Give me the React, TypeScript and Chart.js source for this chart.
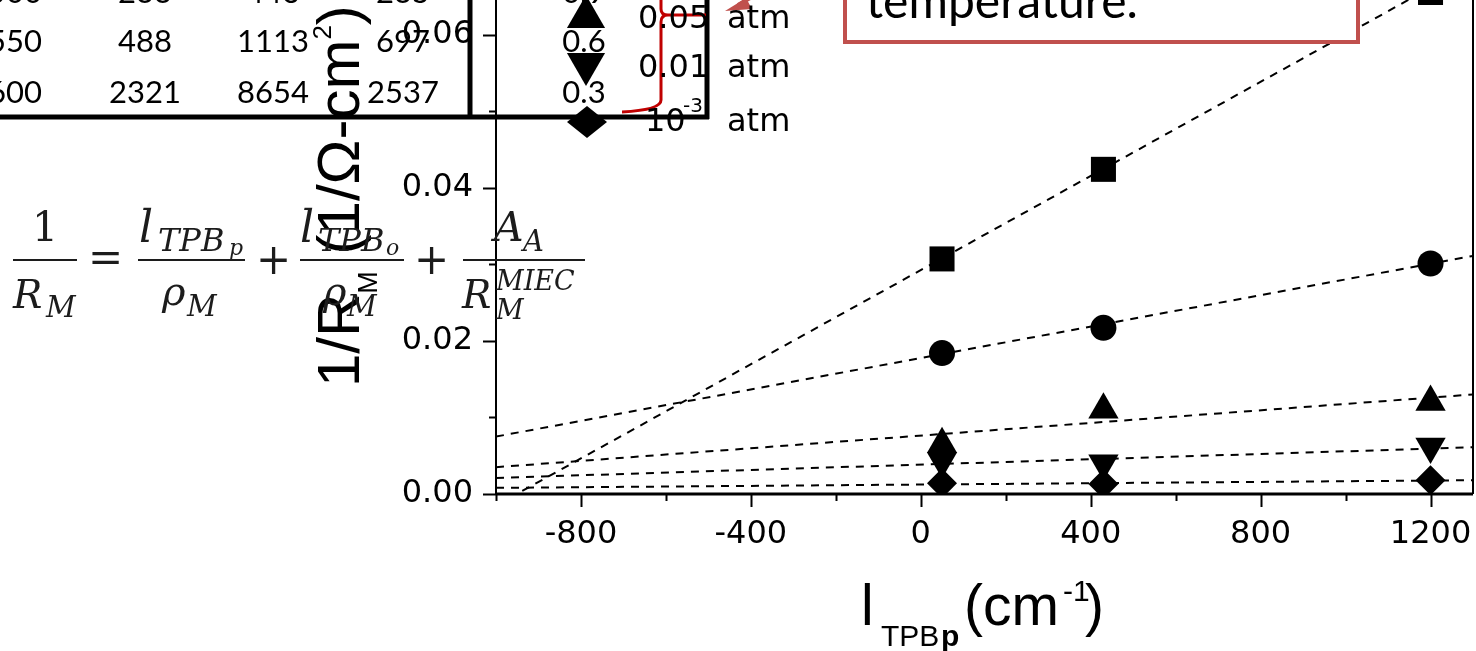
import React, { useEffect, useRef } from "react";
import { Chart, registerables } from "chart.js";
Chart.register(...registerables);

// ---- data ----
const xValues = [50, 430, 1200];
const squareValues = [0.0307, 0.0424, 0.0655];
const circleValues = [0.0184, 0.0217, 0.0301];
const upTriangleValues = [0.0065, 0.011, 0.012];
const downTriangleValues = [0.0043, 0.004, 0.0062];
const diamondValues = [0.0014, 0.0013, 0.0018];

const fitX = [-1000, 1300];
const squareFit = [-0.0015, 0.0692];
const circleFit = [0.0075, 0.0311];
const upTriangleFit = [0.0035, 0.013];
const downTriangleFit = [0.0021, 0.0061];
const diamondFit = [0.0008, 0.0018];

const xMajorTicks = [-800, -400, 0, 400, 800, 1200];
const xMinorTicks = [-1000, -600, -200, 200, 600, 1000];
const yMajorTicks = [0, 0.02, 0.04, 0.06];
const yMinorTicks = [0.01, 0.03, 0.05];

const legendValues = ["0.05", "0.01", "10"];
const tableRows = [
  ["500", "233", "446", "235", "0.9"],
  ["550", "488", "1113", "697", "0.6"],
  ["600", "2321", "8654", "2537", "0.3"],
];
const tableColumns = [15, 145, 273, 403, 584];
const tableBaselines = [3, 52, 103];

const CANVAS_TOP = -100;
const PLOT_RIGHT = 1473;

const pts = (xs: number[], ys: number[]) => xs.map((x, i) => ({ x, y: ys[i] }));

const fitDs = (ys: number[]) => ({
  data: pts(fitX, ys),
  showLine: true,
  borderColor: "#000",
  borderWidth: 2,
  borderDash: [8, 7],
  pointRadius: 0,
  clip: 0,
  order: 2,
});
const markerDs = (ys: number[], style: string, r: number, rot = 0) => ({
  data: pts(xValues, ys),
  showLine: false,
  pointStyle: style,
  pointRadius: r,
  pointRotation: rot,
  backgroundColor: "#000",
  borderColor: "#000",
  borderWidth: 0,
  order: 1,
});

// pin the plot's right edge where the reference has it
const rightEdgePlugin = {
  id: "rightEdge",
  afterLayout(chart: any) {
    const a = chart.chartArea;
    if (Math.abs(a.right - PLOT_RIGHT) > 0.1) {
      a.right = PLOT_RIGHT;
      a.width = a.right - a.left;
      const x = chart.scales.x;
      x.right = PLOT_RIGHT;
      x.width = PLOT_RIGHT - x.left;
      x.configure();
    }
  },
};

const framePlugin = {
  id: "frame",
  afterDraw(chart: any) {
    const { ctx, chartArea: a, scales } = chart;
    const x = scales.x;
    const y = scales.y;
    ctx.save();
    ctx.strokeStyle = "#000";
    ctx.lineWidth = 2;
    ctx.beginPath();
    ctx.moveTo(a.left, a.top);
    ctx.lineTo(a.right, a.top);
    ctx.lineTo(a.right, a.bottom);
    ctx.stroke();
    ctx.lineWidth = 3;
    ctx.beginPath();
    ctx.moveTo(a.left, a.bottom);
    ctx.lineTo(a.right, a.bottom);
    ctx.stroke();
    ctx.lineWidth = 2;
    ctx.beginPath();
    xMajorTicks.forEach((v) => {
      const p = Math.round(x.getPixelForValue(v)) + 0.5;
      ctx.moveTo(p, a.bottom);
      ctx.lineTo(p, a.bottom + 13);
    });
    xMinorTicks.forEach((v) => {
      const p = Math.round(x.getPixelForValue(v)) + 0.5;
      ctx.moveTo(p, a.bottom);
      ctx.lineTo(p, a.bottom + 7);
    });
    yMajorTicks.forEach((v) => {
      const p = Math.round(y.getPixelForValue(v)) + 0.5;
      ctx.moveTo(a.left, p);
      ctx.lineTo(a.left - 13, p);
    });
    yMinorTicks.forEach((v) => {
      const p = Math.round(y.getPixelForValue(v)) + 0.5;
      ctx.moveTo(a.left, p);
      ctx.lineTo(a.left - 7, p);
    });
    ctx.stroke();
    // legend markers
    const oy = -CANVAS_TOP;
    ctx.fillStyle = "#000";
    const tri = (cx: number, cy: number, r: number, down: boolean) => {
      const s = down ? -1 : 1;
      ctx.beginPath();
      ctx.moveTo(cx, cy - s * r);
      ctx.lineTo(cx + 0.866 * r, cy + s * 0.5 * r);
      ctx.lineTo(cx - 0.866 * r, cy + s * 0.5 * r);
      ctx.closePath();
      ctx.fill();
    };
    tri(586, 17 + oy, 22, false);
    tri(586, 64 + oy, 22, true);
    ctx.beginPath();
    ctx.moveTo(587, 106 + oy);
    ctx.lineTo(607, 122 + oy);
    ctx.lineTo(587, 138 + oy);
    ctx.lineTo(567, 122 + oy);
    ctx.closePath();
    ctx.fill();
    ctx.restore();
  },
};

type TP = {
  x: number;
  y: number;
  size: number;
  family?: string;
  italic?: boolean;
  bold?: boolean;
  color?: string;
  anchor?: "start" | "middle" | "end";
  k?: number;
  children: React.ReactNode;
};
function T({ x, y, size, family = "DejaVu Sans", italic, bold, color = "#000", anchor = "start", k = 0.846, children }: TP) {
  const tx = anchor === "middle" ? "-50%" : anchor === "end" ? "-100%" : "0";
  return (
    <div
      style={{
        position: "absolute",
        left: x,
        top: y - k * size,
        fontSize: size,
        lineHeight: 1,
        fontFamily: family,
        fontStyle: italic ? "italic" : "normal",
        fontWeight: bold ? 700 : 400,
        color,
        whiteSpace: "nowrap",
        transform: `translateX(${tx})`,
      }}
    >
      {children}
    </div>
  );
}

const EQ = "#1c1c1c";
const SERIF = "DejaVu Serif";
function Bar({ x1, x2 }: { x1: number; x2: number }) {
  return <div style={{ position: "absolute", left: x1, top: 259, width: x2 - x1, height: 2, background: EQ }} />;
}

export default function App() {
  const ref = useRef<HTMLCanvasElement>(null);
  useEffect(() => {
    const chart: any = new Chart(ref.current as HTMLCanvasElement, {
      type: "scatter",
      data: {
        datasets: [
          fitDs(squareFit),
          fitDs(circleFit),
          fitDs(upTriangleFit),
          fitDs(downTriangleFit),
          fitDs(diamondFit),
          markerDs(squareValues, "rect", 17.7),
          markerDs(circleValues, "circle", 13),
          markerDs(upTriangleValues, "triangle", 17.5),
          markerDs(downTriangleValues, "triangle", 17.5, 180),
          markerDs(diamondValues, "rectRot", 15),
        ] as any,
      },
      options: {
        animation: false,
        responsive: false,
        devicePixelRatio: 1,
        layout: { padding: { left: 0, right: 3, top: 58, bottom: 0 } },
        plugins: { legend: { display: false }, tooltip: { enabled: false } },
        scales: {
          x: {
            type: "linear",
            min: -1000,
            max: 1300,
            afterFit: (s: any) => {
              s.height = 157;
            },
            border: { display: false },
            grid: { display: true, drawOnChartArea: false, drawTicks: true, tickLength: 13, tickColor: "rgba(0,0,0,0)" },
            ticks: {
              stepSize: 200,
              includeBounds: false,
              autoSkip: false,
              maxRotation: 0,
              padding: 8,
              color: "#000",
              font: { family: "DejaVu Sans", size: 32 },
              callback: (v: any) => (xMajorTicks.includes(Number(v)) ? String(v) : ""),
            },
          },
          y: {
            type: "linear",
            min: 0,
            max: 0.07,
            afterFit: (s: any) => {
              s.width = 496;
            },
            border: { display: true, color: "#000", width: 2 },
            grid: { display: true, drawOnChartArea: false, drawTicks: true, tickLength: 13, tickColor: "rgba(0,0,0,0)" },
            ticks: {
              stepSize: 0.01,
              autoSkip: false,
              padding: 10,
              color: "#000",
              font: { family: "DejaVu Sans", size: 32 },
              callback: (v: any) =>
                yMajorTicks.some((t) => Math.abs(t - Number(v)) < 1e-9) ? Number(v).toFixed(2) : "",
            },
          },
        },
      },
      plugins: [rightEdgePlugin, framePlugin],
    } as any);
    return () => chart.destroy();
  }, []);

  return (
    <div style={{ position: "fixed", left: 0, top: 0, width: 1476, height: 651, overflow: "hidden", background: "#fff" }}>
      <canvas
        ref={ref}
        width={1476}
        height={751}
        style={{ position: "absolute", left: 0, top: CANVAS_TOP, width: 1476, height: 751 }}
      />

      {/* table fragment */}
      {tableRows.map((row, ri) =>
        row.map((cell, ci) => (
          <T key={`${ri}-${ci}`} x={tableColumns[ci]} y={tableBaselines[ri]} size={31} family="Lato" k={0.887} anchor="middle">
            {cell}
          </T>
        ))
      )}

      <svg width={1476} height={651} style={{ position: "absolute", left: 0, top: 0 }}>
        <line x1={0} y1={117} x2={709} y2={117} stroke="#000" strokeWidth={5} />
        <line x1={470} y1={0} x2={470} y2={119} stroke="#000" strokeWidth={5} />
        <line x1={707} y1={0} x2={707} y2={119} stroke="#000" strokeWidth={5} />
        {/* red brace */}
        <path
          d="M 661 -5 L 661 9 Q 661 15 668 15 L 706 15 M 668 15 Q 661 15 661 22 L 661 100 Q 661 110 622 112"
          fill="none"
          stroke="#C00000"
          strokeWidth={3}
        />
        {/* arrow */}
        <line x1={790} y1={-25} x2={738} y2={5} stroke="#C0504D" strokeWidth={4} />
        <polygon points="725,11 746,-2 752,9" fill="#C0504D" />
        {/* callout box */}
        <rect x={845} y={-60} width={513} height={102} fill="#fff" stroke="#C0504D" strokeWidth={4} />
      </svg>

      <T x={866} y={19} size={48} family="Lato" k={0.887}>
        temperature.
      </T>

      {/* legend text */}
      <T x={638} y={28} size={32}>{legendValues[0]}</T>
      <T x={727} y={28} size={32}>atm</T>
      <T x={638} y={77} size={32}>{legendValues[1]}</T>
      <T x={727} y={77} size={32}>atm</T>
      <T x={645} y={131} size={32}>{legendValues[2]}</T>
      <T x={683} y={112} size={20}>-3</T>
      <T x={727} y={131} size={32}>atm</T>

      {/* y axis title */}
      <div
        style={{
          position: "absolute",
          left: 309,
          top: 387,
          transformOrigin: "0 0",
          transform: "rotate(-90deg)",
          fontFamily: "Liberation Sans",
          fontSize: 60,
          lineHeight: 1,
          whiteSpace: "nowrap",
          color: "#000",
        }}
      >
        1/R<span style={{ fontSize: 27, lineHeight: 0, verticalAlign: "-18px" }}>M</span> (1/Ω-cm
        <span style={{ fontSize: 26, lineHeight: 0, verticalAlign: "28px" }}>2</span>)
      </div>

      {/* equation */}
      <T x={45} y={242} size={41} family={SERIF} color={EQ} anchor="middle">1</T>
      <Bar x1={13} x2={77} />
      <T x={13} y={308} size={39} family={SERIF} italic color={EQ}>R</T>
      <T x={46} y={318} size={29} family={SERIF} italic color={EQ}>M</T>
      <T x={88} y={273} size={42} family={SERIF} color={EQ}>=</T>

      <T x={139} y={242} size={44} family={SERIF} italic color={EQ}>l</T>
      <T x={158} y={251} size={32} family={SERIF} italic color={EQ}>TPB</T>
      <T x={229} y={256} size={22} family={SERIF} italic color={EQ}>p</T>
      <Bar x1={138} x2={245} />
      <T x={162} y={305} size={40} family={SERIF} italic color={EQ}>ρ</T>
      <T x={187} y={317} size={29} family={SERIF} italic color={EQ}>M</T>
      <T x={256} y={275} size={42} family={SERIF} color={EQ}>+</T>

      <T x={300} y={242} size={44} family={SERIF} italic color={EQ}>l</T>
      <T x={318} y={251} size={32} family={SERIF} italic color={EQ}>TPB</T>
      <T x={386} y={256} size={22} family={SERIF} italic color={EQ}>o</T>
      <Bar x1={300} x2={404} />
      <T x={323} y={305} size={40} family={SERIF} italic color={EQ}>ρ</T>
      <T x={347} y={317} size={29} family={SERIF} italic color={EQ}>M</T>
      <T x={414} y={275} size={42} family={SERIF} color={EQ}>+</T>

      <T x={494} y={242} size={41} family={SERIF} italic color={EQ}>A</T>
      <T x={523} y={252} size={29} family={SERIF} italic color={EQ}>A</T>
      <Bar x1={463} x2={585} />
      <T x={462} y={308} size={39} family={SERIF} italic color={EQ}>R</T>
      <T x={496} y={290} size={27} family={SERIF} italic color={EQ}>MIEC</T>
      <T x={496} y={319} size={27} family={SERIF} italic color={EQ}>M</T>

      {/* x axis title */}
      <T x={861} y={625} size={57} family="Liberation Sans" k={0.8465}>l</T>
      <T x={881} y={646} size={30} family="Liberation Sans" k={0.8465}>TPB</T>
      <T x={941} y={646} size={30} family="Liberation Sans" k={0.8465} bold>p</T>
      <T x={964} y={625} size={57} family="Liberation Sans" k={0.8465}>(cm</T>
      <T x={1063} y={601} size={30} family="Liberation Sans" k={0.8465}>-1</T>
      <T x={1085} y={625} size={57} family="Liberation Sans" k={0.8465}>)</T>
    </div>
  );
}
